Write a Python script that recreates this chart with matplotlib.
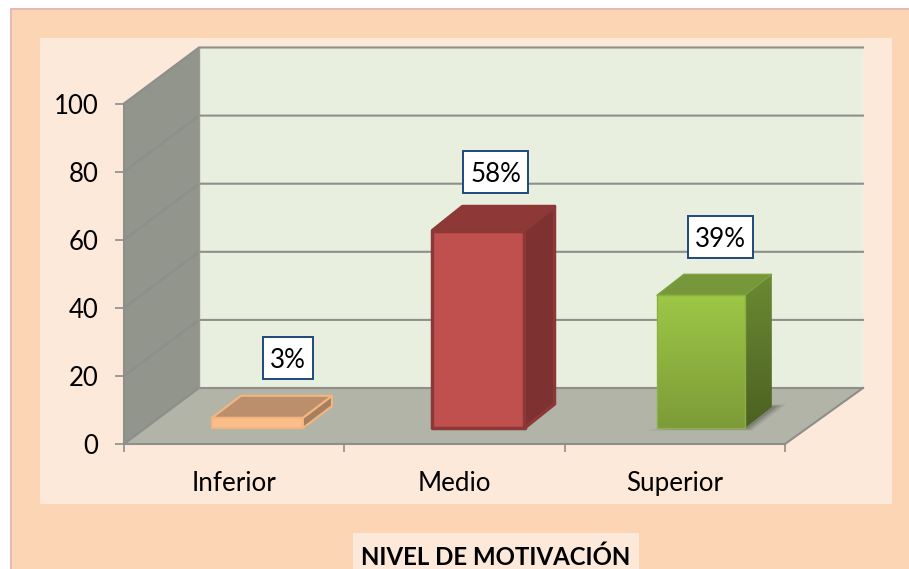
import numpy as np
import matplotlib
matplotlib.use("Agg")
import matplotlib.pyplot as plt
from matplotlib.colors import LinearSegmentedColormap
from matplotlib.patches import Polygon, Rectangle
from matplotlib.transforms import Affine2D

categories = ["Inferior", "Medio", "Superior"]
values = [3, 58, 39]
value_labels = ["3%", "58%", "39%"]
y_ticks = [0, 20, 40, 60, 80, 100]

W, H = 909, 569
plt.rcParams["font.family"] = ["Lato", "DejaVu Sans"]

fig = plt.figure(figsize=(W / 100, H / 100), dpi=100, facecolor="white")

# pixel transform for the page decoration, y pointing down
page = Affine2D().scale(1, -1).translate(0, H)


def page_box(x0, y0, x1, y1, color):
    fig.add_artist(Rectangle((x0, y0), x1 - x0, y1 - y0, transform=page,
                             facecolor=color, edgecolor="none", zorder=-1))


page_box(10, 8, W, H, "#E6B9B8")
page_box(12, 10, W, H, "#FCD5B5")
page_box(40, 38, 892, 504, "#FDE9D9")
page_box(353, 533, 639, H, "#FDE9D9")

# front plane of the chart: x 124..785, y 444..103.5
ax = fig.add_axes([124 / W, 1 - 444 / H, 661 / W, 340.5 / H])
ax.set_xlim(0, 3)
ax.set_ylim(0, 100)
ax.patch.set_visible(False)

px = 661 / 3       # pixels per category
py = 340.5 / 100   # pixels per value unit
depth_x = 75 / px
depth_r = 78 / px  # back plane is a bit wider on the right
depth_y = 56 / py
GRID = "#8E8E8A"


def poly(pts, color, z, edge="none", lw=0, alpha=None):
    ax.add_patch(Polygon(pts, closed=True, facecolor=color, edgecolor=edge,
                         linewidth=lw, zorder=z, clip_on=False, alpha=alpha,
                         joinstyle="round"))


# back wall, side wall, floor
poly([(depth_x, depth_y), (3 + depth_r, depth_y), (3 + depth_r, 100 + depth_y), (depth_x, 100 + depth_y)], "#E9EFDF", 1)
poly([(0, 0), (depth_x, depth_y), (depth_x, 100 + depth_y), (0, 100)], "#92958B", 1)
poly([(0, 0), (3, 0), (3 + depth_r, depth_y), (depth_x, depth_y)], "#B1B4A7", 1)

for v in y_ticks:
    ax.plot([0, depth_x, 3 + depth_r], [v, v + depth_y, v + depth_y], color=GRID,
            lw=1.5, zorder=2, clip_on=False, solid_joinstyle="miter")
ax.plot([depth_x, depth_x], [depth_y, 100 + depth_y], color="#9A9C94", lw=1, zorder=2, clip_on=False)
ax.plot([3, 3 + depth_r], [0, depth_y], color=GRID, lw=1.5, zorder=2, clip_on=False)

# bars stand part way back on the floor, sizes in pixels of the 3d look
bar_w = [91, 92, 88]
bar_off = [23.3, 24, 26]
side_w = [29, 30, 27]
side_h = [22, 24, 21]
off_y = 16 / py

styles = [
    dict(front="#FBBE88", top="#BC8F6C", side="#A67F5E", edge="#F5B57F", lw=1.5),
    dict(front="#C0504D", top="#8E3937", side="#7D3130", edge="#8C3836", lw=2.5),
    dict(front=None, top="#76983A", side=None, edge="#8CB043", lw=1),
]
for i, v in enumerate(values):
    s = styles[i]
    x0 = i + 0.5 + (bar_off[i] - bar_w[i] / 2) / px
    x1 = x0 + bar_w[i] / px
    y0 = off_y
    y1 = y0 + v
    side_x = side_w[i] / px
    side_y = side_h[i] / py
    if i == 2:
        # soft shadow under the green bar
        for grow, a in zip([1.0, 0.7, 0.4], [0.15, 0.22, 0.30]):
            gx = grow * 14 / px
            gy = grow * 2.5 / py
            poly([(x0 - gx, y0 - gy), (x1 + gx / 2, y0 - gy),
                  (x1 + side_x + gx, y0 + side_y + gy), (x1 + side_x, y0 + side_y + gy), (x1, y0 + gy)],
                 "#55574F", 3, alpha=a)
    if s["front"] is not None:
        poly([(x0, y0), (x1, y0), (x1, y1), (x0, y1)], s["front"], 5, s["edge"], s["lw"])
        poly([(x1, y0), (x1 + side_x, y0 + side_y), (x1 + side_x, y1 + side_y), (x1, y1)],
             s["side"], 5, s["edge"], s["lw"])
    else:
        # gradient faces for the green bar
        front = Polygon([(x0, y0), (x1, y0), (x1, y1), (x0, y1)], closed=True, transform=ax.transData)
        im = ax.imshow(np.linspace(0, 1, 64).reshape(-1, 1), extent=(x0, x1, y0, y1), origin="lower",
                       cmap=LinearSegmentedColormap.from_list("g", ["#7D9B38", "#9DC746"]),
                       aspect="auto", zorder=5)
        im.set_clip_path(front)
        side = Polygon([(x1, y0), (x1 + side_x, y0 + side_y), (x1 + side_x, y1 + side_y), (x1, y1)],
                       closed=True, transform=ax.transData)
        im2 = ax.imshow(np.linspace(0, 1, 64).reshape(-1, 1),
                        extent=(x1, x1 + side_x, y0, y1 + side_y), origin="lower",
                        cmap=LinearSegmentedColormap.from_list("g2", ["#4C6122", "#6B8A33"]),
                        aspect="auto", zorder=5)
        im2.set_clip_path(side)
        poly([(x0, y0), (x1, y0), (x1, y1), (x0, y1)], "none", 6, s["edge"], s["lw"])
    poly([(x0, y1), (x1, y1), (x1 + side_x, y1 + side_y), (x0 + side_x, y1 + side_y)], s["top"], 5,
         s["edge"] if i != 2 else "#7FA23C", s["lw"] if i != 2 else 0.8)

ax.set_xlim(0, 3)
ax.set_ylim(0, 100)

# value boxes, placed relative to each category and value
box_dx = [54 / px, 41 / px, 45.5 / px]
box_rise = [22.4, 21.9, 21.8]
box_w = [50 / px, 65 / px, 65 / px]
box_h = 42 / py
for i, lab in enumerate(value_labels):
    cx = i + 0.5 + box_dx[i]
    cy = values[i] + box_rise[i]
    ax.add_patch(Rectangle((cx - box_w[i] / 2, cy - box_h / 2), box_w[i], box_h, facecolor="white",
                           edgecolor="#1F497D", linewidth=1.4, zorder=8, clip_on=False))
    ax.text(cx, cy, lab, ha="center", va="center_baseline", fontsize=18.7, color="black", zorder=9)

for side_name in ["top", "right"]:
    ax.spines[side_name].set_visible(False)
for side_name in ["left", "bottom"]:
    ax.spines[side_name].set_color(GRID)
    ax.spines[side_name].set_linewidth(1.5)
    ax.spines[side_name].set_zorder(4)

ax.set_yticks(y_ticks)
ax.set_xticks([0, 1, 2, 3])
ax.set_xticklabels([])
ax.set_xticks([0.5, 1.5, 2.5], minor=True)
ax.set_xticklabels(categories, minor=True)
ax.tick_params(axis="y", length=6.5, width=1.2, color=GRID, pad=12, labelsize=18.5, labelcolor="black")
ax.tick_params(axis="x", which="major", length=6, width=1.2, color=GRID)
ax.tick_params(axis="x", which="minor", length=0, pad=19.5, labelsize=18.7, labelcolor="black")

fig.text(496 / W, 1 - 557 / H, "NIVEL DE MOTIVACIÓN", ha="center", va="center",
         fontsize=17.3, fontweight="bold", color="black")

fig.savefig("out.png", dpi=100)
